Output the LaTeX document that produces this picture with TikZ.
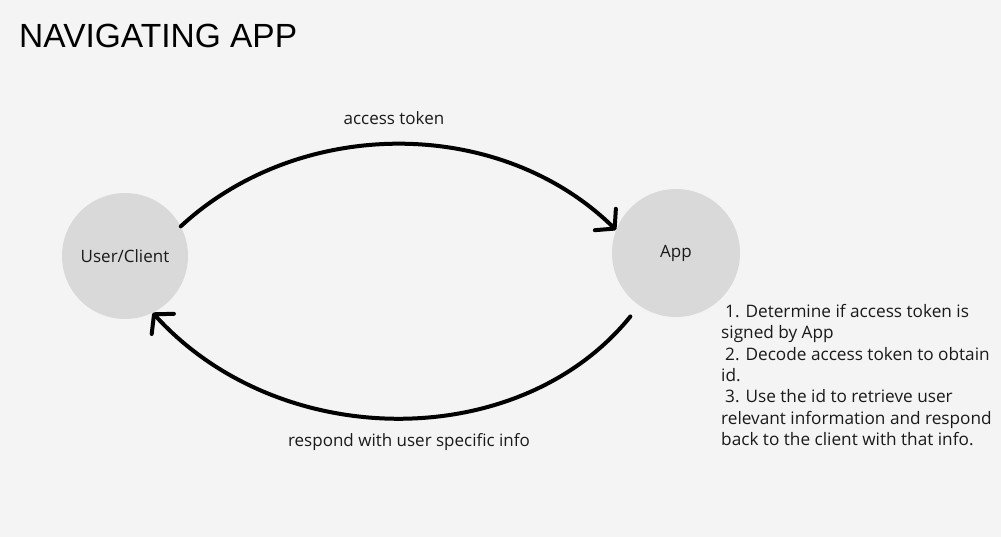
\documentclass[tikz,border=0pt]{standalone}
\usepackage{fontspec}
\setmainfont{Liberation Sans}
\newfontfamily\bodyfont{Open Sans}
\usetikzlibrary{arrows.meta}
\definecolor{bg}{HTML}{F4F4F4}
\definecolor{circ}{HTML}{D9D9D9}
\definecolor{ink}{HTML}{1A1A1A}
\tikzset{
  actor/.style={circle, fill=circ, minimum size=126pt, inner sep=0pt, text=ink, font=\bodyfont\fontsize{17}{20}\selectfont},
  lbl/.style={text=ink, font=\bodyfont\fontsize{17}{20}\selectfont, inner sep=0pt},
  flow/.style={line width=4pt, line cap=round, -{Straight Barb[length=13pt,width=30pt,round]}}
}
\begin{document}
\begin{tikzpicture}[x=1pt,y=-1pt]
\fill[bg] (0,0) rectangle (1001,537);
\useasboundingbox (0,0) rectangle (1001,537);
\node[anchor=base west, inner sep=0pt, text=black, font=\fontsize{33.5}{36}\selectfont] (title) at (19,48) {NAVIGATING APP};
\node[actor] (user) at (125,256) {User/Client};
\node[actor, minimum size=128pt] (app) at (676,253) {App};
\node[lbl] (tok) at (394,118) {access token};
\node[lbl] (resp) at (409,442) {respond with user specific info};
\node[lbl, anchor=north west, align=left, font=\bodyfont\fontsize{17.2}{21.4}\selectfont] (steps) at (721,304)
  {\hspace{4pt}1. Determine if access token is\\
   signed by App\\
   \hspace{4pt}2. Decode access token to obtain\\
   id.\\
   \hspace{4pt}3. Use the id to retrieve user\\
   relevant information and respond\\
   back to the client with that info.};
\draw[flow] (user.28) .. controls (300,116) and (500,116) .. (app.159);
\draw[flow, shorten <=14pt] (app.-125) .. controls (520,453) and (280,453) .. (user.-64);
\end{tikzpicture}
\end{document}
